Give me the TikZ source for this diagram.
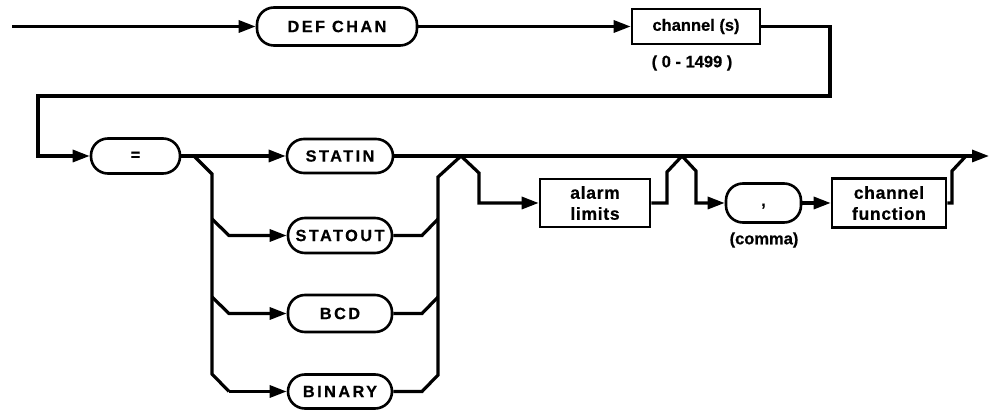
\documentclass[tikz,border=0pt]{standalone}
\usepackage{fontspec}
\setmainfont{Liberation Sans}[FakeBold=0.6]
\newfontfamily\capsfont{Liberation Sans}[LetterSpace=15,FakeBold=0.6]
\usetikzlibrary{arrows.meta}
\tikzset{
  line/.style={line width=3.2pt, line join=miter},
  arr/.style={line width=3.2pt, line join=miter, -{Triangle[length=17pt,width=12pt]}},
  txt/.style={font=\fontsize{16.5}{21}\selectfont\bfseries, align=center, inner sep=0pt},
  kw/.style={draw, line width=2.6pt, rounded corners=17pt, inner sep=0pt,
    font=\capsfont\fontsize{16.3}{20}\selectfont\bfseries},
  rbox/.style={draw, line width=2.6pt, inner sep=0pt, align=center,
    font=\fontsize{16.5}{21}\selectfont\bfseries},
  bigbox/.style={rbox, font=\addfontfeature{LetterSpace=4}\fontsize{17.5}{21}\selectfont\bfseries},
}
\begin{document}
\begin{tikzpicture}[x=1pt,y=-1pt]
\useasboundingbox (0,0) rectangle (989,411);
% nodes
\node[kw, minimum width=160pt, minimum height=38pt] (defchan) at (337,26.5) {DEF CHAN};
\node[rbox, minimum width=128pt, minimum height=35pt] (chans) at (696,26.5) {channel (s)};
\node[txt] (range) at (692,63) {( 0 - 1499 )};
\node[kw, minimum width=89pt, minimum height=35pt] (eq) at (135.5,156) {=};
\node[kw, minimum width=106pt, minimum height=34pt] (statin) at (340,156) {STATIN};
\node[kw, minimum width=104pt, minimum height=35pt] (statout) at (340,235.5) {STATOUT};
\node[kw, minimum width=104pt, minimum height=37pt] (bcd) at (340,313.5) {BCD};
\node[kw, minimum width=104pt, minimum height=34pt] (binary) at (340,391.5) {BINARY};
\node[bigbox, minimum width=110pt, minimum height=48pt] (alarm) at (595,203) {alarm\\limits};
\node[kw, minimum width=75pt, minimum height=39pt, text height=8pt, text depth=2pt] (comma) at (763.5,203) {,};
\node[txt] (commalbl) at (764,240) {(comma)};
\node[bigbox, minimum width=114pt, minimum height=49pt] (chfunc) at (889,203) {channel\\function};
% coordinates
\coordinate (start) at (12,26.5);
\coordinate (r1) at (830,26.5);
\coordinate (r2) at (830,96);
\coordinate (r3) at (38,96);
\coordinate (r4) at (38,156);
\coordinate (fin) at (989,156);
\coordinate (lf0) at (194,156);
\coordinate (lf1) at (212,174);
\coordinate (lf2) at (212,374);
\coordinate (lsa) at (212,219);
\coordinate (lsb) at (229,235.5);
\coordinate (lba) at (212,297);
\coordinate (lbb) at (229,313.5);
\coordinate (lbn) at (229,391.5);
\coordinate (rsa) at (422,235.5);
\coordinate (rsb) at (438,219);
\coordinate (rba) at (422,313.5);
\coordinate (rbb) at (438,297);
\coordinate (rna) at (422,391.5);
\coordinate (rnb) at (438,375);
\coordinate (rtop) at (438,177);
\coordinate (pk1) at (461,156);
\coordinate (a1) at (479,173);
\coordinate (a2) at (479,203);
\coordinate (a3) at (667,203);
\coordinate (a4) at (667,172);
\coordinate (pk2) at (682,156);
\coordinate (c1) at (696,171);
\coordinate (c2) at (696,203);
\coordinate (f1) at (952,203);
\coordinate (f2) at (952,171);
\coordinate (pk3) at (966,156);
% connectors
\draw[arr] (start) -- (defchan.west);
\draw[arr] (defchan.east) -- (chans.west);
\draw[arr] (chans.east) -- (r1) -- (r2) -- (r3) -- (r4) -- (eq.west);
\draw[arr] (eq.east) -- (statin.west);
\draw[arr] (statin.east) -- (fin);
% left fork
\draw[line] (lf0) -- (lf1) -- (lf2) -- (lbn);
\draw[arr] (lbn) -- (binary.west);
\draw[arr] (lsa) -- (lsb) -- (statout.west);
\draw[arr] (lba) -- (lbb) -- (bcd.west);
% right join
\draw[line] (statout.east) -- (rsa) -- (rsb);
\draw[line] (bcd.east) -- (rba) -- (rbb);
\draw[line] (binary.east) -- (rna) -- (rnb) -- (rtop) -- (pk1);
% alarm bypass
\draw[arr] (pk1) -- (a1) -- (a2) -- (alarm.west);
\draw[line] (alarm.east) -- (a3) -- (a4) -- (pk2);
\draw[arr] (pk2) -- (c1) -- (c2) -- (comma.west);
\draw[arr] (comma.east) -- (chfunc.west);
\draw[line] (chfunc.east) -- (f1) -- (f2) -- (pk3);
\end{tikzpicture}
\end{document}
